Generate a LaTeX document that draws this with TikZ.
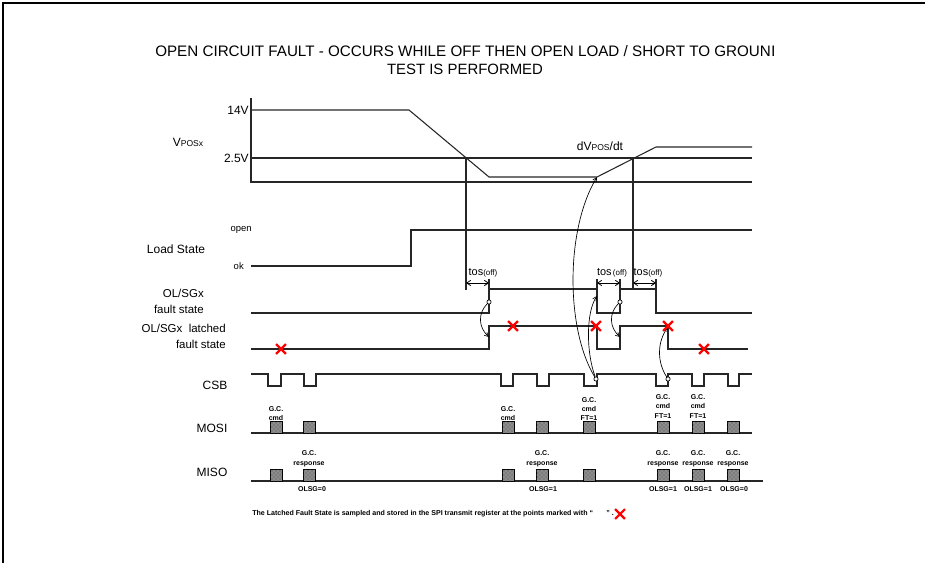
\documentclass[tikz,border=0pt]{standalone}
\usepackage{fontspec}
\setmainfont{Liberation Sans}
\usetikzlibrary{arrows.meta,shapes.misc,patterns}
\newcommand\pxf[2]{\fontsize{#1}{#2}\selectfont}
\begin{document}
\begin{tikzpicture}[x=0.75pt,y=-0.75pt,
  sig/.style={line width=0.8pt, draw=black!85},
  lbl/.style={inner sep=0pt, font=\pxf{9}{10.5}},
  small/.style={inner sep=0pt, font=\pxf{7.1}{8}},
  two/.style={inner sep=0pt, align=right, font=\pxf{8.6}{12}},
  title/.style={inner sep=0pt, font=\pxf{11.2}{13}},
  gc/.style={inner sep=0pt, align=center, font=\bfseries\pxf{5.25}{7}},
  foot/.style={inner sep=0pt, font=\bfseries\pxf{5.3}{7}},
  blk/.style={draw=black, line width=0.6pt, fill=black!45, postaction={pattern=crosshatch dots, pattern color=black!70}},
  redx/.style={cross out, draw=red, line width=1.6pt, inner sep=0pt, minimum size=5.8pt},
  circ/.style={circle, draw=black, fill=white, line width=0.5pt, inner sep=0pt, minimum size=3.2pt},
  carrow/.style={line width=0.5pt, -{Straight Barb[length=3pt,width=3pt]}},
  tos/.style={line width=0.6pt, {Straight Barb[length=3pt,width=4pt]}-{Straight Barb[length=3pt,width=4pt]}},
  tick/.style={line width=0.8pt, draw=black!85}
]
\useasboundingbox (0,0) rectangle (925,563);
% frame
\draw[line width=1pt] (3,563) -- (3,3) -- (925,3);
% title
\node[title, font=\pxf{11.4}{13}, anchor=base west] (t1) at (155,57) {OPEN CIRCUIT FAULT - OCCURS WHILE OFF THEN OPEN LOAD / SHORT TO GROUN};
\begin{scope}
\clip ([yshift=2pt]t1.north east) rectangle ([xshift=1.6pt,yshift=-2pt]t1.south east);
\node[title, font=\pxf{11.4}{13}, anchor=base west] (t1d) at (t1.base east) {D};
\end{scope}
\node[title] (t2) at (465,69) {TEST IS PERFORMED};

% labels
\node[lbl, anchor=east] (l14) at (249,110) {14V};
\node[lbl, anchor=east] (l25) at (249,158) {2.5V};
\node[inner sep=0pt] (vpos) at (188,142) {\pxf{9}{10}V\pxf{6.4}{8}POSx};
\node[small, anchor=east] (lopen) at (252,230) {open};
\node[small, anchor=east] (lok) at (244,266) {ok};
\node[lbl] (lload) at (176,249) {Load State};
\node[two, anchor=east] (lfs) at (204,301.5) {OL/SGx\\fault state};
\node[two, anchor=east] (llfs) at (226,336.5) {OL/SGx\ \ latched\\fault state};
\node[lbl] (lcsb) at (215,385) {CSB};
\node[lbl] (lmosi) at (212,428) {MOSI};
\node[lbl] (lmiso) at (212,472) {MISO};
\node[inner sep=0pt] (dv) at (600,146) {\pxf{9}{10}dV\pxf{6.4}{8}POS\pxf{9}{10}/dt};

% VPOS
\draw[sig] (251,98) -- (251,182) -- (752,182);
\draw[sig] (251,158) -- (752,158);
\draw[sig] (251,110) -- (409,110) -- (489,177) -- (597,177) -- (656,147) -- (752,147);
\draw[sig] (466,158) -- (466,290);
\draw[sig] (633,158) -- (633,289);
% load
\draw[sig] (251,266) -- (411,266) -- (411,230) -- (752,230);
% fault state
\draw[sig] (251,313) -- (489,313) -- (489,289) -- (597,289) -- (597,313) -- (620,313) -- (620,289) -- (656,289) -- (656,313) -- (752,313);
\foreach \x in {489,597,620,656} \draw[tick] (\x,279) -- (\x,289);
\draw[tos] (466,283) -- (489,283);
\draw[tos] (597,283) -- (620,283);
\draw[tos] (633,283) -- (656,283);
\node[inner sep=0pt] (tos1) at (483,273) {\pxf{8.2}{9}tos\pxf{6}{7}(off)};
\node[inner sep=0pt] (tos2) at (612,273) {\pxf{8.2}{9}tos\pxf{6}{7}\,(off)};
\node[inner sep=0pt] (tos3) at (648,273) {\pxf{8.2}{9}tos\pxf{6}{7}(off)};
% latched
\draw[sig] (251,349) -- (489,349) -- (489,326) -- (597,326) -- (597,349) -- (620,349) -- (620,326) -- (668,326) -- (668,349) -- (748,349);
% CSB
\draw[sig] (251,374) -- (268,374) -- (268,386) -- (281,386) -- (281,374)
  -- (304,374) -- (304,386) -- (316,386) -- (316,374)
  -- (501,374) -- (501,386) -- (513,386) -- (513,374)
  -- (537,374) -- (537,386) -- (549,386) -- (549,374)
  -- (584,374) -- (584,386) -- (597,386) -- (597,374)
  -- (656,374) -- (656,386) -- (668,386) -- (668,374)
  -- (692,374) -- (692,386) -- (704,386) -- (704,374)
  -- (728,374) -- (728,386) -- (739,386) -- (739,374) -- (752,374);
% MOSI / MISO
\draw[sig] (251,433) -- (752,433);
\draw[sig] (251,481) -- (763,481);
\foreach \c in {276,309,508,542,589,663,698,733} {
  \draw[blk] (\c-6,421) rectangle (\c+6,433);
  \draw[blk] (\c-6,469) rectangle (\c+6,481);
}
\node[gc, anchor=south] (m1) at (276,421) {G.C.\\cmd};
\node[gc, anchor=south] (m3) at (508,421) {G.C.\\cmd};
\node[gc, anchor=south] (m5) at (589,421) {G.C.\\cmd\\FT=1};
\node[gc, anchor=south] (m6) at (663,418.5) {G.C.\\cmd\\FT=1};
\node[gc, anchor=south] (m7) at (698,418.5) {G.C.\\cmd\\FT=1};
\foreach \c in {309,542,663,698,733}
  \node[gc, anchor=south] at (\c,467) {G.C.\\response};
\node[gc] (o1) at (312,489) {OLSG=0};
\node[gc] (o2) at (543,489) {OLSG=1};
\node[gc] (o3) at (663,489) {OLSG=1};
\node[gc] (o4) at (698,489) {OLSG=1};
\node[gc] (o5) at (734,489) {OLSG=0};

% curved arrows
\node[circ] (c1) at (489,302) {};
\coordinate (e1) at (489,337);
\draw[carrow] (c1) .. controls (478,313) and (478,327) .. (e1);
\node[circ] (c2) at (620,302) {};
\coordinate (e2) at (620,337);
\draw[carrow] (c2) .. controls (609,313) and (609,327) .. (e2);
\node[circ] (c3) at (596,379) {};
\coordinate (e3) at (597,296);
\coordinate (e4) at (597,177);
\draw[carrow] (c3) .. controls (586,352) and (586,312) .. (e3);
\draw[carrow] (c3) .. controls (566,330) and (565,230) .. (e4);
\node[circ] (c5) at (668,379) {};
\coordinate (e5) at (668,327);
\draw[carrow] (c5) .. controls (657,362) and (657,342) .. (e5);

% red crosses
\foreach \p in {(281,349),(513,326),(596,326),(668,326),(704,349),(620,514)}
  \node[redx] at \p {};

% footnote
\node[foot, anchor=west] (fn) at (252,514) {The Latched Fault State is sampled and stored in the SPI transmit register at the points marked with “\hspace{10pt}” .};
\end{tikzpicture}
\end{document}
